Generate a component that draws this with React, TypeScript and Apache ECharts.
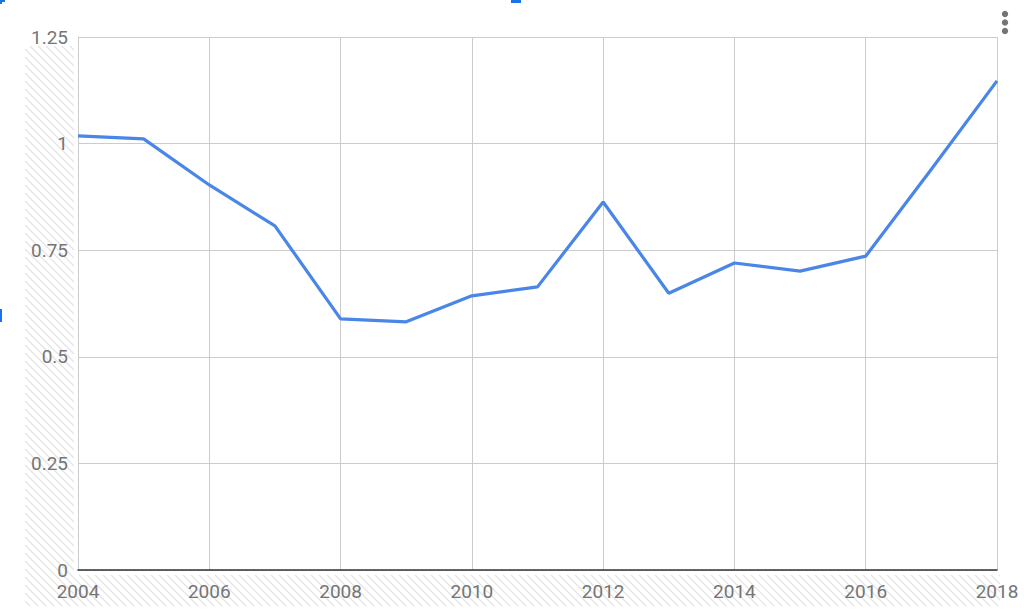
import React, { useEffect, useRef } from "react";
import * as echarts from "echarts";

const years = [2004, 2005, 2006, 2007, 2008, 2009, 2010, 2011, 2012, 2013, 2014, 2015, 2016, 2017, 2018];
const values = [1.018, 1.011, 0.903, 0.807, 0.589, 0.582, 0.643, 0.664, 0.863, 0.649, 0.72, 0.701, 0.736, 0.94, 1.147];
const yTicks = [0, 0.25, 0.5, 0.75, 1, 1.25];

function hatch(x0: number, y0: number, x1: number, y1: number, step: number) {
  const out: any[] = [];
  const cStart = Math.floor((x0 - y1) / step) * step;
  for (let c = cStart; c <= x1 - y0; c += step) {
    const ya = Math.max(y0, x0 - c);
    const yb = Math.min(y1, x1 - c);
    if (yb <= ya) continue;
    out.push({
      type: "line",
      silent: true,
      z: -10,
      shape: { x1: ya + c, y1: ya, x2: yb + c, y2: yb },
      style: { stroke: "#e4e4e4", lineWidth: 1.2 },
    });
  }
  return out;
}

export default function App() {
  const ref = useRef<HTMLDivElement>(null);
  useEffect(() => {
    if (!ref.current) return;
    const chart = echarts.init(ref.current, undefined, { renderer: "svg" });
    const font = "Roboto, 'Noto Sans', sans-serif";
    chart.setOption({
      animation: false,
      backgroundColor: "#ffffff",
      grid: { left: 78, top: 37, right: 27, bottom: 42, containLabel: false },
      xAxis: {
        type: "value",
        min: 2004,
        max: 2018,
        interval: 2,
        axisLine: { show: true, onZero: false, lineStyle: { color: "#333333", width: 1.5 } },
        axisTick: { show: false },
        axisLabel: {
          color: "#757575",
          fontSize: 19,
          lineHeight: 17,
          fontFamily: font,
          margin: 13,
          formatter: (v: number) => String(v),
        },
        splitLine: { show: true, lineStyle: { color: "#cccccc", width: 1 } },
      },
      yAxis: {
        type: "value",
        min: yTicks[0],
        max: yTicks[yTicks.length - 1],
        interval: 0.25,
        axisLine: { show: true, lineStyle: { color: "#cccccc", width: 1 } },
        axisTick: { show: false },
        axisLabel: {
          color: "#757575",
          fontSize: 19,
          lineHeight: 16,
          fontFamily: font,
          margin: 10,
          formatter: (v: number) => String(v),
        },
        splitLine: { show: true, lineStyle: { color: "#cccccc", width: 1 } },
      },
      series: [
        {
          type: "line",
          data: years.map((y, i) => [y, values[i]]),
          showSymbol: false,
          symbol: "none",
          lineStyle: { color: "#4a86e8", width: 3.2 },
          itemStyle: { color: "#4a86e8" },
          z: 5,
        },
      ],
      graphic: [
        ...hatch(25, 46, 74, 606, 8),
        ...hatch(74, 575, 1000, 606, 8),
        { type: "circle", shape: { cx: 1005, cy: 14, r: 3.2 }, style: { fill: "#757575" } },
        { type: "circle", shape: { cx: 1005, cy: 22.5, r: 3.2 }, style: { fill: "#757575" } },
        { type: "circle", shape: { cx: 1005, cy: 31, r: 3.2 }, style: { fill: "#757575" } },
        { type: "rect", shape: { x: 0, y: 0, width: 5, height: 2 }, style: { fill: "#1a73e8" } },
        { type: "rect", shape: { x: 0, y: 0, width: 2, height: 4 }, style: { fill: "#1a73e8" } },
        { type: "rect", shape: { x: 511, y: 0, width: 10, height: 3 }, style: { fill: "#1a73e8" } },
        { type: "rect", shape: { x: 0, y: 309, width: 2, height: 13 }, style: { fill: "#1a73e8" } },
      ],
    });
    return () => chart.dispose();
  }, []);
  return (
    <div
      ref={ref}
      style={{ position: "fixed", left: 0, top: 0, width: 1024, height: 612 }}
    />
  );
}
